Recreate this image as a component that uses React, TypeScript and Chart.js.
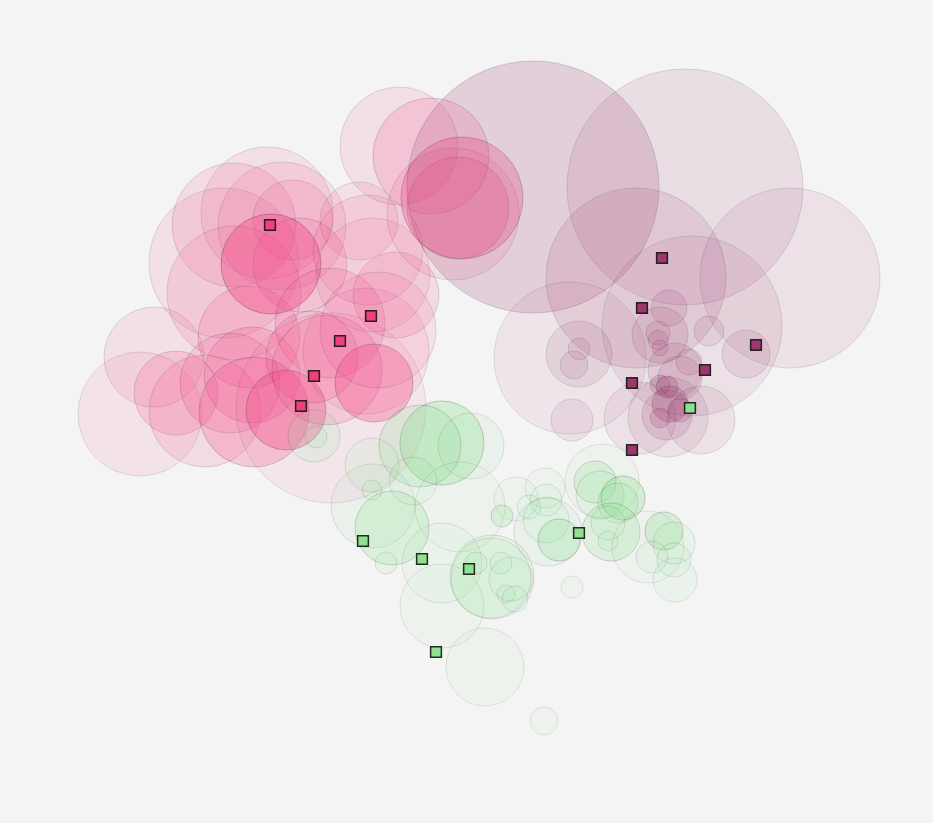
import React, { useEffect, useRef } from "react";
import { Chart, registerables } from "chart.js";

Chart.register(...registerables);

// [x, y, size, density]
const pinkBubbles: number[][] = [
  [140, 414, 62, 0.1], [154, 357, 50, 0.12], [176, 393, 42, 0.18], [205, 411, 56, 0.14],
  [224, 263, 75, 0.12], [234, 225, 62, 0.14], [267, 213, 66, 0.12], [282, 226, 64, 0.12],
  [293, 220, 40, 0.14], [234, 293, 67, 0.13], [300, 265, 47, 0.16], [249, 337, 51, 0.17],
  [230, 383, 50, 0.17], [252, 375, 48, 0.18], [254, 412, 55, 0.24], [286, 410, 40, 0.36],
  [271, 264, 50, 0.38], [330, 323, 55, 0.16], [312, 357, 46, 0.18], [327, 370, 55, 0.18],
  [366, 351, 63, 0.11], [331, 408, 95, 0.08], [374, 383, 39, 0.32], [396, 295, 43, 0.15],
  [359, 221, 39, 0.12], [368, 250, 55, 0.12], [373, 275, 57, 0.1], [378, 330, 58, 0.11],
  [399, 146, 59, 0.12], [431, 156, 58, 0.18], [453, 214, 66, 0.12], [458, 208, 51, 0.2],
  [462, 198, 61, 0.3],
];

const mauveBubbles: number[][] = [
  [533, 187, 126, 0.2], [685, 187, 118, 0.12], [636, 278, 90, 0.14], [790, 278, 90, 0.1],
  [692, 326, 90, 0.1], [570, 358, 76, 0.08], [579, 354, 33, 0.12], [579, 349, 11, 0.12],
  [574, 365, 14, 0.12], [572, 420, 21, 0.1], [669, 308, 18, 0.14], [709, 331, 15, 0.12],
  [746, 354, 24, 0.12], [660, 335, 28, 0.14], [658, 333, 12, 0.14], [658, 340, 10, 0.14],
  [660, 348, 8, 0.14], [675, 370, 27, 0.14], [689, 362, 13, 0.14], [680, 378, 22, 0.14],
  [660, 385, 10, 0.2], [667, 387, 11, 0.25], [670, 404, 18, 0.25], [680, 410, 12, 0.2],
  [660, 418, 10, 0.2], [667, 415, 25, 0.15], [640, 418, 36, 0.1], [668, 417, 40, 0.1],
  [701, 420, 34, 0.1],
];

const greenBubbles: number[][] = [
  [442, 443, 42, 0.3], [420, 446, 41, 0.2], [471, 446, 33, 0.08], [373, 506, 42, 0.08],
  [392, 528, 37, 0.22], [372, 490, 10, 0.12], [413, 481, 24, 0.08], [372, 465, 27, 0.1],
  [314, 436, 26, 0.12], [316, 437, 11, 0.1], [386, 563, 11, 0.1], [460, 507, 45, 0.06],
  [442, 563, 40, 0.07], [442, 606, 42, 0.06], [492, 577, 42, 0.12], [491, 578, 40, 0.1],
  [476, 563, 11, 0.1], [501, 563, 11, 0.08], [511, 579, 22, 0.08], [506, 594, 9, 0.08],
  [515, 599, 13, 0.08], [485, 667, 39, 0.06], [544, 721, 14, 0.06], [572, 587, 11, 0.06],
  [502, 516, 11, 0.2], [516, 499, 22, 0.06], [545, 488, 20, 0.06], [546, 500, 16, 0.08],
  [529, 507, 12, 0.08], [546, 520, 23, 0.1], [548, 532, 34, 0.08], [559, 540, 21, 0.26],
  [602, 481, 37, 0.06], [595, 482, 21, 0.2], [600, 495, 24, 0.12], [623, 498, 22, 0.3],
  [618, 503, 20, 0.12], [611, 532, 29, 0.2], [608, 523, 17, 0.1], [608, 541, 10, 0.1],
  [648, 547, 36, 0.06], [664, 531, 19, 0.26], [674, 543, 21, 0.1], [652, 557, 16, 0.08],
  [674, 560, 17, 0.08], [675, 580, 22, 0.07],
];

// [x, y]
const pinkCenters: number[][] = [[270, 225], [371, 316], [340, 341], [314, 376], [301, 406]];
const mauveCenters: number[][] = [[662, 258], [642, 308], [756, 345], [705, 370], [632, 383], [632, 450]];
const greenCenters: number[][] = [[690, 408], [363, 541], [422, 559], [469, 569], [579, 533], [436, 652]];

const PINK = [242, 72, 134];
const MAUVE = [160, 62, 112];
const GREEN = [132, 222, 136];

const rgba = (c: number[], a: number) => `rgba(${c[0]},${c[1]},${c[2]},${a})`;

function bubbleSet(rows: number[][], col: number[], order: number) {
  return {
    type: "bubble" as const,
    order,
    data: rows.map((r) => ({ x: r[0], y: r[1], r: r[2] })),
    backgroundColor: rows.map((r) => rgba(col, r[3])),
    borderColor: rows.map((r) => `rgba(50,50,50,${Math.min(0.3, 0.08 + r[3] * 0.55)})`),
    borderWidth: 1,
  };
}

function centerSet(rows: number[][], fill: string) {
  return {
    type: "scatter" as const,
    order: 0,
    data: rows.map((r) => ({ x: r[0], y: r[1] })),
    pointStyle: "rect",
    pointRadius: 7.6,
    backgroundColor: fill,
    borderColor: "rgba(20,20,20,0.9)",
    borderWidth: 1.5,
  };
}

export default function App() {
  const ref = useRef<HTMLCanvasElement | null>(null);
  useEffect(() => {
    document.body.style.margin = "0";
    document.body.style.background = "#f4f4f4";
    if (!ref.current) return;
    const chart = new Chart(ref.current, {
      type: "bubble",
      data: {
        datasets: [
          centerSet(pinkCenters, "rgb(238,64,124)") as any,
          centerSet(mauveCenters, "rgb(156,56,108)") as any,
          centerSet(greenCenters, "rgb(140,226,144)") as any,
          bubbleSet(greenBubbles, GREEN, 1) as any,
          bubbleSet(mauveBubbles, MAUVE, 2) as any,
          bubbleSet(pinkBubbles, PINK, 3) as any,
        ],
      },
      options: {
        responsive: false,
        animation: false,
        layout: { padding: 0, autoPadding: false },
        plugins: { legend: { display: false }, tooltip: { enabled: false } },
        scales: {
          x: { type: "linear", min: 0, max: 933, display: false },
          y: { type: "linear", min: 0, max: 823, reverse: true, display: false },
        },
      },
    });
    return () => chart.destroy();
  }, []);
  return (
    <div style={{ width: 933, height: 823, background: "#f4f4f4" }}>
      <canvas ref={ref} width={933} height={823} style={{ display: "block" }} />
    </div>
  );
}
